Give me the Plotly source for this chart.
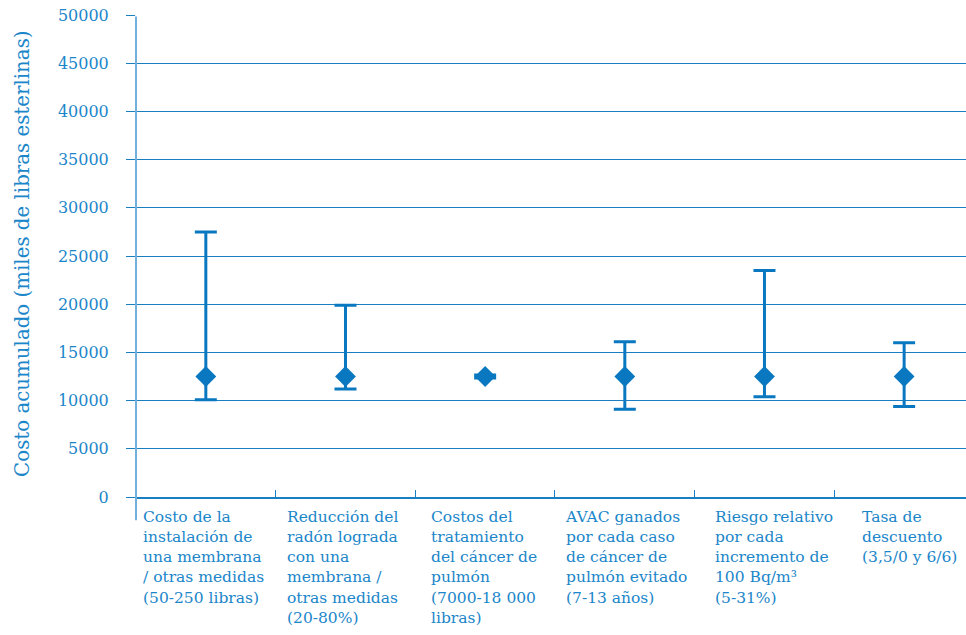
import plotly.graph_objects as go

# Sensitivity parameters (category labels, left-aligned in blocks under each slot)
categories = [
    "Costo de la<br>instalación de<br>una membrana<br>/ otras medidas<br>(50-250 libras)",
    "Reducción del<br>radón lograda<br>con una<br>membrana /<br>otras medidas<br>(20-80%)",
    "Costos del<br>tratamiento<br>del cáncer de<br>pulmón<br>(7000-18 000<br>libras)",
    "AVAC ganados<br>por cada caso<br>de cáncer de<br>pulmón evitado<br>(7-13 años)",
    "Riesgo relativo<br>por cada<br>incremento de<br>100 Bq/m³<br>(5-31%)",
    "Tasa de<br>descuento<br>(3,5/0 y 6/6)",
]
base_cost = [12500, 12500, 12500, 12500, 12500, 12500]
upper_cost = [27500, 19900, 12650, 16100, 23500, 16000]
lower_cost = [10100, 11200, 12350, 9100, 10400, 9400]

y_ticks = [0, 5000, 10000, 15000, 20000, 25000, 30000, 35000, 40000, 45000, 50000]
y_title = "Costo acumulado (miles de libras esterlinas)"

TEXT = "#1b86c9"
MARK = "#0a78c0"
GRID = "#1a7ec2"
FONT = "DejaVu Serif"

# horizontal nudges (px) for the label blocks
label_shift = [-2, -3, -1, 1, 10, 5]

x_pos = list(range(len(categories)))
err_plus = [u - b for u, b in zip(upper_cost, base_cost)]
err_minus = [b - l for b, l in zip(base_cost, lower_cost)]

fig = go.Figure()
fig.add_trace(go.Scatter(
    x=x_pos, y=base_cost, mode="markers",
    marker=dict(symbol="diamond", size=16, color=MARK),
    error_y=dict(type="data", symmetric=False, array=err_plus, arrayminus=err_minus,
                 color=MARK, thickness=3, width=11),
    showlegend=False, hoverinfo="skip",
))

# Category labels below the axis, block centred on each slot, lines left-aligned
for i, lab in enumerate(categories):
    fig.add_annotation(
        x=i, xref="x", y=0, yref="paper", yanchor="top", xanchor="center",
        yshift=-9, xshift=label_shift[i], text=lab, align="left", showarrow=False,
        font=dict(family=FONT, size=15.5, color=TEXT),
    )

# Rotated y-axis title
fig.add_annotation(
    x=-0.137, xref="paper", y=0.505, yref="paper", xanchor="center", yanchor="middle",
    text=y_title, textangle=-90, showarrow=False,
    font=dict(family=FONT, size=19.8, color=TEXT),
)

# Vertical axis line continuing a little below zero
fig.add_shape(type="line", xref="paper", yref="paper", x0=0, x1=0, y0=-0.048, y1=0.997,
              line=dict(color="#6fb0dc", width=2), layer="above")

fig.update_layout(
    width=966, height=635,
    margin=dict(l=136, r=0, t=15, b=138),
    paper_bgcolor="white", plot_bgcolor="white",
    xaxis=dict(
        range=[-0.5, 5.443], tickmode="array",
        tickvals=[-0.5, 0.5, 1.5, 2.5, 3.5, 4.5, 5.5],
        showticklabels=False, ticks="inside", ticklen=7, tickcolor=GRID, tickwidth=1,
        showgrid=False, zeroline=False, showline=True, linecolor=GRID, linewidth=1.5,
        fixedrange=True,
    ),
    yaxis=dict(
        range=[0, 50000], tickmode="array", tickvals=y_ticks,
        ticktext=[str(v) for v in y_ticks],
        ticks="outside", ticklen=9, tickcolor=GRID, tickwidth=1,
        ticklabelstandoff=14,
        showgrid=True, gridcolor=GRID, gridwidth=1, zeroline=False, showline=False,
        tickfont=dict(family=FONT, size=16, color=TEXT),
        fixedrange=True,
    ),
)

fig.write_html("out.html")
